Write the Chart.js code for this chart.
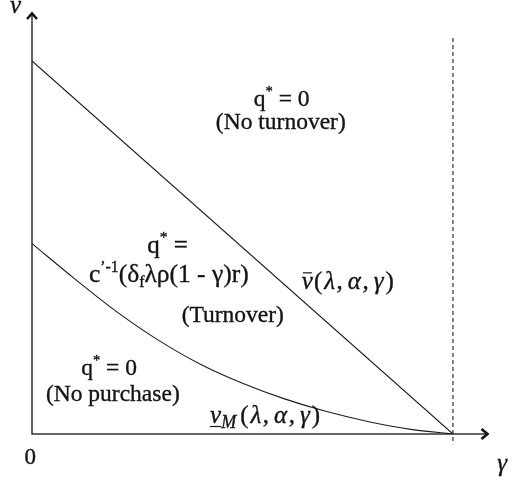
<!DOCTYPE html>
<html>
<head>
<meta charset="utf-8">
<script src="https://cdn.jsdelivr.net/npm/chart.js@4/dist/chart.umd.min.js"></script>
<style>
  html, body { margin: 0; padding: 0; background: #ffffff; }
  #wrap { width: 513px; height: 480px; }
</style>
</head>
<body>
<div id="wrap"><canvas id="c" width="513" height="480"></canvas></div>
<script>
// Upper boundary v̄(λ,α,γ): straight line falling to zero at γ = 1
const upperGamma = [0, 1];
const upperV = [0.882, 0];

// Lower boundary v_M(λ,α,γ): convex curve falling to zero at γ = 1
const lowerGamma = [0, 0.1, 0.2, 0.3, 0.4, 0.5, 0.6, 0.7, 0.8, 0.9, 1];
const lowerV = [0.45, 0.368, 0.290, 0.222, 0.165, 0.120, 0.083, 0.053, 0.029, 0.011, 0];

// Vertical reference at γ = 1
const gammaLimit = 1;
const limitSpan = [0.936, -0.024];

// Axis extents
const gammaAxisMax = 1.088;
const vAxisMax = 1;

const FONT = "'Liberation Serif', 'DejaVu Serif', serif";
const INK = '#141414';

const toPoints = (xs, ys) => xs.map((x, i) => ({ x: x, y: ys[i] }));

// Region and curve annotations: anchor in (γ, v), text as styled runs.
// sc = size factor, dy = baseline shift in em, gap = extra space after the run in px.
const S = 0.62;
const mathArgs = [
  { t: '(', gap: 2 }, { t: '\u03bb', it: true, gap: 1.5 }, { t: ',', gap: 5 },
  { t: '\u03b1', it: true, gap: 1.5 }, { t: ',', gap: 5 }, { t: '\u03b3', it: true, gap: 2 }, { t: ')' }
];
const annotations = [
  { g: 0.593, v: 0.775, align: 'center', size: 23.5,
    runs: [{ t: 'q' }, { t: '*', sc: S, dy: -0.42 }, { t: ' = 0' }] },
  { g: 0.591, v: 0.720, align: 'center', size: 23.5,
    runs: [{ t: '(No turnover)' }] },
  { g: 0.322, v: 0.428, align: 'center', size: 25,
    runs: [{ t: 'q' }, { t: '*', sc: S, dy: -0.42 }, { t: ' =' }] },
  { g: 0.325, v: 0.359, align: 'center', size: 25.5,
    runs: [{ t: 'c' }, { t: '\u2019-1', sc: S, dy: -0.4 }, { t: '(\u03b4' },
           { t: 'f', sc: S, dy: 0.2 }, { t: '\u03bb\u03c1(1 - \u03b3)r)' }] },
  { g: 0.477, v: 0.265, align: 'center', size: 23.5,
    runs: [{ t: '(Turnover)' }] },
  { g: 0.641, v: 0.342, align: 'left', size: 25,
    runs: [{ t: 'v', it: true, bar: true, gap: 1 }].concat(mathArgs) },
  { g: 0.183, v: 0.139, align: 'center', size: 23.5,
    runs: [{ t: 'q' }, { t: '*', sc: S, dy: -0.42 }, { t: ' = 0' }] },
  { g: 0.192, v: 0.078, align: 'center', size: 23.5,
    runs: [{ t: '(No purchase)' }] },
  { g: 0.423, v: 0.026, align: 'left', size: 25,
    runs: [{ t: 'v', it: true, under: true }, { t: 'M', it: true, sc: 0.72, dy: 0.2, gap: 4 }].concat(mathArgs) },
  // axis names and origin
  { g: -0.052, v: 0.996, align: 'left', size: 25, runs: [{ t: 'v', it: true }] },
  { g: -0.004, v: -0.071, align: 'center', size: 23, runs: [{ t: '0' }] },
  { g: 1.105, v: -0.088, align: 'left', size: 25, runs: [{ t: '\u03b3', it: true }] }
];

function runFont(r, size) {
  const px = size * (r.sc || 1);
  return (r.it ? 'italic ' : '') + px + 'px ' + FONT;
}

function drawRuns(ctx, a, x, y) {
  let total = 0;
  a.runs.forEach(r => {
    ctx.font = runFont(r, a.size);
    r._w = ctx.measureText(r.t).width;
    total += r._w + (r.gap || 0);
  });
  let cx = a.align === 'center' ? x - total / 2 : x;
  ctx.fillStyle = INK;
  ctx.strokeStyle = INK;
  a.runs.forEach(r => {
    ctx.font = runFont(r, a.size);
    const by = y + (r.dy || 0) * a.size;
    ctx.lineWidth = 0.35;
    ctx.fillText(r.t, cx, by);
    ctx.strokeText(r.t, cx, by);
    if (r.bar) {
      ctx.lineWidth = 1.2;
      ctx.beginPath();
      ctx.moveTo(cx + 1, by - a.size * 0.66);
      ctx.lineTo(cx + r._w - 1, by - a.size * 0.66);
      ctx.stroke();
    }
    if (r.under) {
      ctx.lineWidth = 1.2;
      ctx.beginPath();
      ctx.moveTo(cx, by + 3.5);
      ctx.lineTo(cx + r._w, by + 3.5);
      ctx.stroke();
    }
    cx += r._w + (r.gap || 0);
  });
}

const diagramPlugin = {
  id: 'diagramAxes',
  beforeDatasetsDraw(chart) {
    const ctx = chart.ctx;
    const xs = chart.scales.x, ys = chart.scales.y;
    const x0 = xs.getPixelForValue(0), y0 = ys.getPixelForValue(0);
    const xEnd = xs.getPixelForValue(gammaAxisMax), yEnd = ys.getPixelForValue(vAxisMax);
    ctx.save();
    ctx.strokeStyle = '#333333';
    ctx.lineWidth = 1.5;
    ctx.beginPath();
    ctx.moveTo(x0, yEnd + 2);
    ctx.lineTo(x0, y0);
    ctx.lineTo(xEnd - 2, y0);
    ctx.stroke();
    // arrowheads
    ctx.strokeStyle = '#111111';
    ctx.lineWidth = 2.6;
    ctx.lineJoin = 'miter';
    ctx.lineCap = 'butt';
    ctx.beginPath();
    ctx.moveTo(x0 - 5, yEnd + 8);
    ctx.lineTo(x0, yEnd + 2.5);
    ctx.lineTo(x0 + 5, yEnd + 8);
    ctx.stroke();
    ctx.beginPath();
    ctx.moveTo(xEnd - 8.5, y0 - 5);
    ctx.lineTo(xEnd - 2.5, y0);
    ctx.lineTo(xEnd - 8.5, y0 + 5);
    ctx.stroke();
    ctx.restore();
  },
  afterDatasetsDraw(chart) {
    const ctx = chart.ctx;
    const xs = chart.scales.x, ys = chart.scales.y;
    ctx.save();
    ctx.textBaseline = 'alphabetic';
    ctx.textAlign = 'left';
    annotations.forEach(a => drawRuns(ctx, a, xs.getPixelForValue(a.g), ys.getPixelForValue(a.v)));
    ctx.restore();
  }
};

new Chart(document.getElementById('c'), {
  type: 'scatter',
  data: {
    datasets: [
      {
        label: 'v\u0304(\u03bb,\u03b1,\u03b3)',
        data: toPoints(upperGamma, upperV),
        showLine: true,
        borderColor: '#1c1c1c',
        borderWidth: 1.1,
        pointRadius: 0,
        fill: false
      },
      {
        label: 'v_M(\u03bb,\u03b1,\u03b3)',
        data: toPoints(lowerGamma, lowerV),
        showLine: true,
        borderColor: '#1c1c1c',
        borderWidth: 1.1,
        pointRadius: 0,
        cubicInterpolationMode: 'monotone',
        fill: false
      },
      {
        label: '\u03b3 = 1',
        data: [{ x: gammaLimit, y: limitSpan[0] }, { x: gammaLimit, y: limitSpan[1] }],
        showLine: true,
        borderColor: '#1c1c1c',
        borderWidth: 1.1,
        borderDash: [4, 3],
        pointRadius: 0,
        clip: false,
        fill: false
      }
    ]
  },
  options: {
    responsive: false,
    animation: false,
    devicePixelRatio: 1,
    layout: { padding: { left: 32, right: 23, top: 11, bottom: 46 } },
    scales: {
      x: { type: 'linear', min: 0, max: gammaAxisMax, display: false },
      y: { type: 'linear', min: 0, max: vAxisMax, display: false }
    },
    plugins: {
      legend: { display: false },
      tooltip: { enabled: false }
    }
  },
  plugins: [diagramPlugin]
});
</script>
</body>
</html>
